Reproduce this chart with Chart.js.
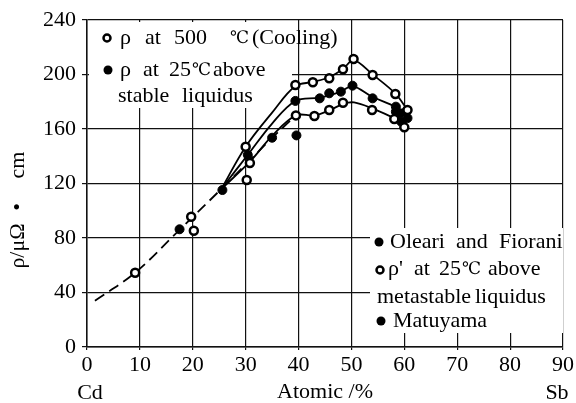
<!DOCTYPE html>
<html>
<head>
<meta charset="utf-8">
<script src="https://cdn.jsdelivr.net/npm/chart.js@4"></script>
<style>
  html, body { margin: 0; padding: 0; background: #fff; }
  #wrap { width: 576px; height: 403px; }
</style>
</head>
<body>
<div id="wrap"><canvas id="grafico"></canvas></div>
<script>
// puntos (x = % atomico Sb, y = resistividad)
const xTicks = [0, 10, 20, 30, 40, 50, 60, 70, 80, 90];
const yTicks = [0, 40, 80, 120, 160, 200, 240];

// rho a 500 C (enfriamiento) - circulos abiertos, curva superior
const enfriamientoX = [30, 39.4, 42.7, 45.8, 48.4, 50.4, 54, 58.3, 60.6];
const enfriamientoY = [147, 192.3, 194.3, 197.2, 203.8, 211.4, 199.6, 185.7, 174];

// rho a 25 C sobre liquidus estable - curva media
const estableX = [30.4, 39.4, 44, 45.8, 48, 50.2, 54, 58.4, 60.6];
const estableY = [141, 180.6, 182.5, 186.2, 187.4, 191.8, 182.5, 176.4, 168];

// rho' a 25 C sobre liquidus metaestable - curva inferior
const metaestableX = [30.8, 39.5, 43, 45.8, 48.4, 53.9, 58.1, 60];
const metaestableY = [135, 170, 169.5, 174, 179.3, 174, 167.3, 161.2];

// Oleari y Fiorani
const oleariX = [17.5, 25.6, 35, 39.6, 58.4, 59.2, 60.3, 59.4];
const oleariY = [86.4, 115.2, 153.6, 155.3, 172.7, 171.5, 172.7, 165.4];

// Matuyama
const matuyamaX = [9.1, 19.7, 20.2, 30.2];
const matuyamaY = [54.5, 95.6, 85.3, 122.6];

// curvas trazadas a mano en el original
const curvaSupX = [25.4, 30, 35, 39.4, 42.7, 45.8, 48.4, 50.4, 54, 58.3, 60.6];
const curvaSupY = [116, 147, 172, 191.5, 194.5, 198, 204, 210.5, 200, 186, 174];
const curvaMedX = [25.4, 30.4, 35, 39.4, 44, 48, 50.2, 54, 58.4, 60.6];
const curvaMedY = [116, 141, 164, 180.6, 183, 187.5, 191.5, 183.5, 176, 168];
const curvaInfX = [25.4, 30.8, 35, 39.5, 43, 46, 48.5, 50.5, 54, 58, 60.2];
const curvaInfY = [116, 136, 155, 170, 170, 174, 178.5, 179.5, 175, 168, 162];
const curvaBajaX = [1.5, 9.1, 17.5, 25.4, 30, 35, 39.5];
const curvaBajaY = [34, 54.5, 86, 116, 134, 153.5, 170];

function puntos(xs, ys) {
    return xs.map((x, i) => ({ x: x, y: ys[i] }));
}

function curva(xs, ys, dash) {
    return {
        type: 'line',
        data: puntos(xs, ys),
        borderColor: '#000',
        borderWidth: 1.8,
        borderDash: dash || [],
        pointRadius: 0,
        tension: 0.35,
        showLine: true,
        fill: false
    };
}

function serie(xs, ys, abierto) {
    return {
        type: 'scatter',
        data: puntos(xs, ys),
        pointRadius: abierto ? 4 : 4.5,
        pointBackgroundColor: abierto ? '#fff' : '#000',
        pointBorderColor: '#000',
        pointBorderWidth: abierto ? 2.5 : 1,
        showLine: false
    };
}

const fuente = '"Liberation Serif", "DejaVu Serif", serif';

function marca(ctx, x, y, abierto) {
    ctx.beginPath();
    ctx.arc(x, y, abierto ? 3.5 : 4.5, 0, Math.PI * 2);
    if (abierto) {
        ctx.fillStyle = '#fff';
        ctx.fill();
        ctx.lineWidth = 2.5;
        ctx.strokeStyle = '#000';
        ctx.stroke();
    } else {
        ctx.fillStyle = '#000';
        ctx.fill();
    }
    ctx.fillStyle = '#000';
}

// escribe palabra por palabra con el espaciado ancho del original
function palabras(ctx, lista, y) {
    lista.forEach(p => {
        // el simbolo de grados sale muy ancho, va mas chico
        ctx.font = (p[0] === '℃' ? '17px ' : '22px ') + fuente;
        ctx.fillText(p[0], p[1], p[0] === '℃' ? y + 1 : y);
    });
}

const leyendas = {
    id: 'leyendas',
    beforeDatasetsDraw(chart) {
        const ctx = chart.ctx;
        ctx.save();
        // cajas blancas que tapan la grilla como en el original
        ctx.fillStyle = '#fff';
        ctx.fillRect(89, 22, 203, 86);
        ctx.fillRect(370, 228, 193, 105);

        ctx.fillStyle = '#000';
        ctx.textBaseline = 'middle';
        ctx.textAlign = 'left';

        marca(ctx, 107, 38, true);
        palabras(ctx, [['ρ', 120], ['at', 145], ['500', 174], ['℃', 230], ['(Cooling)', 252]], 38);
        marca(ctx, 108, 70, false);
        palabras(ctx, [['ρ', 120], ['at', 143], ['25', 169], ['℃', 192], ['above', 213]], 70);
        palabras(ctx, [['stable', 118], ['liquidus', 182]], 96);

        marca(ctx, 379, 242, false);
        palabras(ctx, [['Oleari', 390], ['and', 456], ['Fiorani', 499]], 242);
        marca(ctx, 380, 270, true);
        palabras(ctx, [["ρ'", 388], ['at', 414], ['25', 439], ['℃', 462], ['above', 488]], 269);
        palabras(ctx, [['metastable', 377], ['liquidus', 475]], 297);
        marca(ctx, 381, 321, false);
        palabras(ctx, [['Matuyama', 393]], 321);
        ctx.restore();
    },
    afterDraw(chart) {
        const ctx = chart.ctx;
        ctx.save();
        ctx.fillStyle = '#000';
        ctx.font = '22px ' + fuente;
        ctx.textBaseline = 'middle';
        ctx.textAlign = 'center';
        ctx.fillText('Cd', 90, 393);
        ctx.fillText('Sb', 557, 393);
        // titulo del eje y, rotado, en tres partes
        [['cm', 165], ['•', 207], ['ρ/μΩ', 246]].forEach(p => {
            ctx.save();
            ctx.translate(18, p[1]);
            ctx.rotate(-Math.PI / 2);
            ctx.fillText(p[0], 0, 0);
            ctx.restore();
        });
        ctx.restore();
    }
};

const ctxGrafico = document.getElementById('grafico');

new Chart(ctxGrafico, {
    type: 'scatter',
    data: {
        datasets: [
            serie(enfriamientoX, enfriamientoY, true),
            serie(estableX, estableY, false),
            serie(metaestableX, metaestableY, true),
            serie(oleariX, oleariY, false),
            serie(matuyamaX, matuyamaY, true),
            curva(curvaSupX, curvaSupY),
            curva(curvaMedX, curvaMedY),
            curva(curvaInfX, curvaInfY),
            curva(curvaBajaX, curvaBajaY, [11, 6])
        ]
    },
    options: {
        responsive: true,
        maintainAspectRatio: false,
        animation: false,
        layout: { padding: { left: 0, right: 12, top: 20, bottom: 0 } },
        plugins: {
            legend: { display: false },
            tooltip: { enabled: false }
        },
        scales: {
            x: {
                type: 'linear',
                min: 0,
                max: 90,
                afterBuildTicks: (s) => { s.ticks = xTicks.map(v => ({ value: v })); },
                afterFit: (s) => { s.height = 56; },
                ticks: {
                    color: '#000',
                    padding: 2,
                    font: { family: fuente, size: 22 }
                },
                grid: { color: '#111', lineWidth: 1.2, tickLength: 3 },
                border: { color: '#111', width: 1.5 },
                title: {
                    display: true,
                    text: 'Atomic /%',
                    color: '#000',
                    padding: { top: 6, bottom: 0 },
                    font: { family: fuente, size: 22, lineHeight: 1 }
                }
            },
            y: {
                type: 'linear',
                min: 0,
                max: 240,
                afterBuildTicks: (s) => { s.ticks = yTicks.map(v => ({ value: v })); },
                afterFit: (s) => { s.width = 87; },
                ticks: {
                    color: '#000',
                    padding: 6,
                    font: { family: fuente, size: 22 }
                },
                grid: { color: '#111', lineWidth: 1.2, tickLength: 5 },
                border: { color: '#111', width: 1.5 }
            }
        }
    },
    plugins: [leyendas]
});
</script>
</body>
</html>
